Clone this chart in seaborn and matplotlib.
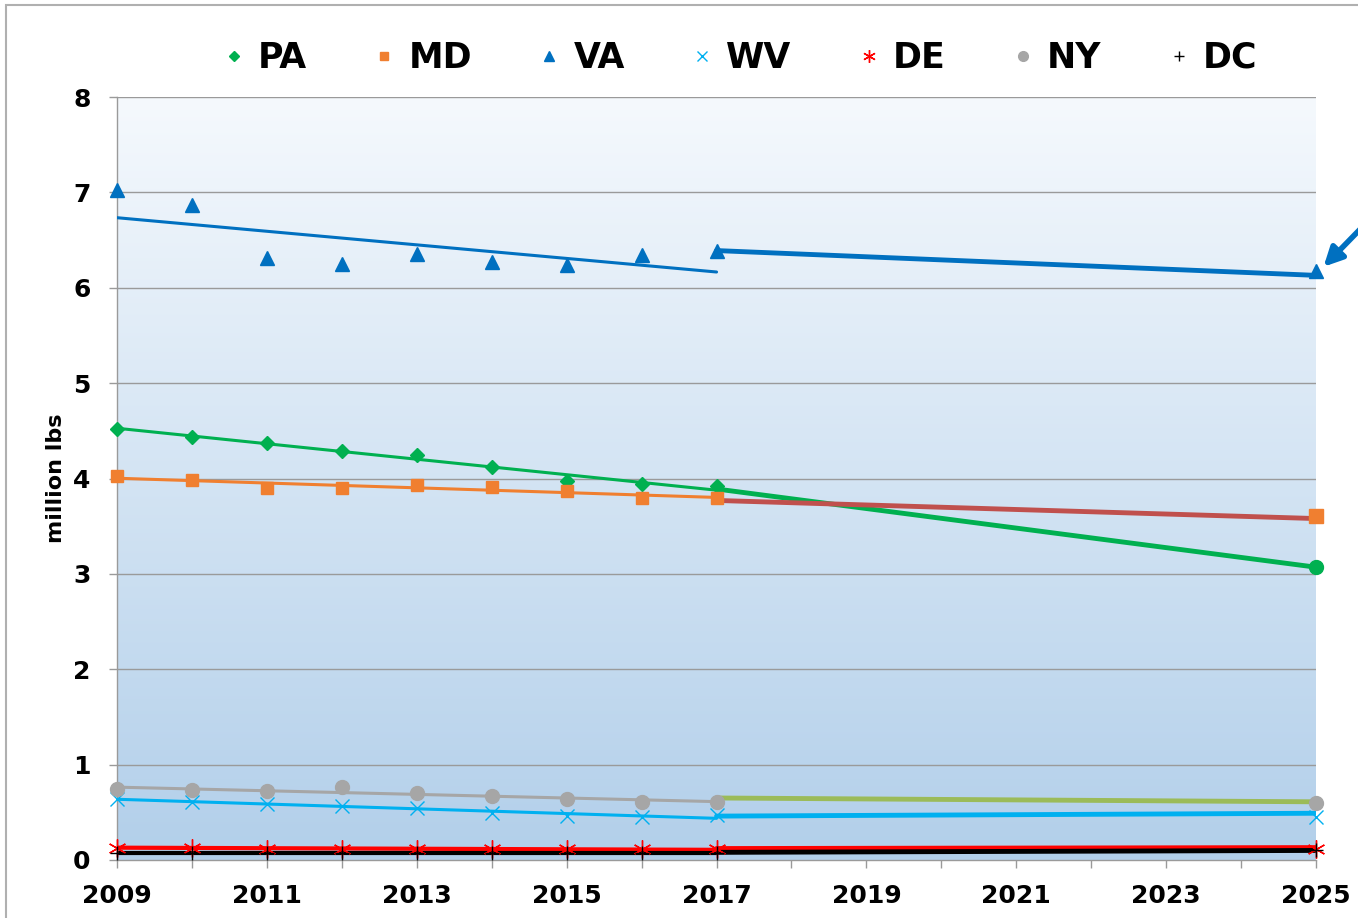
import numpy as np
import pandas as pd
import matplotlib.pyplot as plt
import seaborn as sns
from matplotlib.patches import Rectangle
from matplotlib.colors import LinearSegmentedColormap


# ==========================
# DADOS
# ==========================

anos = [2009, 2010, 2011, 2012, 2013, 2014, 2015, 2016, 2017]

pa = [4.52, 4.44, 4.37, 4.29, 4.25, 4.12, 3.97, 3.94, 3.92]
md = [4.03, 3.98, 3.90, 3.90, 3.93, 3.91, 3.87, 3.80, 3.80]
va = [7.03, 6.87, 6.31, 6.25, 6.35, 6.27, 6.24, 6.34, 6.39]
wv = [0.64, 0.61, 0.59, 0.57, 0.55, 0.49, 0.46, 0.45, 0.47]
de = [0.13, 0.13, 0.12, 0.12, 0.12, 0.11, 0.11, 0.11, 0.11]
ny = [0.74, 0.73, 0.72, 0.77, 0.70, 0.67, 0.64, 0.61, 0.61]
dc = [0.07, 0.07, 0.07, 0.07, 0.07, 0.07, 0.07, 0.07, 0.07]

estados = ['PA', 'MD', 'VA', 'WV', 'DE', 'NY', 'DC']
series = [pa, md, va, wv, de, ny, dc]

# metas 2017 -> 2025
proj_anos = [2017, 2025]
proj_inicio = [3.89, 3.77, 6.39, 0.46, 0.12, 0.65, 0.08]
proj_fim = [3.07, 3.58, 6.13, 0.49, 0.13, 0.61, 0.10]
valor_2025 = [3.07, 3.61, 6.18, 0.45, 0.12, 0.60, 0.10]

# ==========================
# ESTILO
# ==========================

cores_marc = ['#00B050', '#F07F30', '#0070C0', '#00B0F0', '#FF0000', '#A6A6A6', '#000000']
cores_proj = ['#00B050', '#C0504D', '#0070C0', '#00B0F0', '#FF0000', '#9BBB59', '#000000']
marcadores = ['D', 's', '^', 'x', (6, 2, 0), 'o', '+']
tamanhos = [7, 9, 10, 10, 13, 10, 10]
larg_trend = [2.2, 2.2, 2.2, 2.2, 3.0, 2.2, 3.0]
marc_2025 = ['o', 's', '^', 'x', (6, 2, 0), 'o', '+']

sns.set_theme(style='white')
plt.rcParams['font.family'] = ['DejaVu Sans']
plt.rcParams['font.weight'] = 'bold'
plt.rcParams['text.color'] = 'black'
plt.rcParams['axes.labelcolor'] = 'black'
plt.rcParams['xtick.labelcolor'] = 'black'
plt.rcParams['ytick.labelcolor'] = 'black'

fig = plt.figure(figsize=(13.58, 9.18), dpi=100)
ax = fig.add_axes([0.0862, 0.0632, 0.8829, 0.8311])

# fundo em gradiente
grad = LinearSegmentedColormap.from_list('fundo', ['#B2CFEA', '#F5F9FD'])
ax.imshow(
    np.linspace(0, 1, 256).reshape(-1, 1),
    extent=[2009, 2025, 0, 8],
    origin='lower',
    aspect='auto',
    cmap=grad,
    zorder=0
)

for y in range(1, 9):
    ax.axhline(y, color='#9A9A9A', lw=1, zorder=1)

for i, nome in enumerate(estados):
    df = pd.DataFrame({'ano': anos, 'valor': series[i]})

    # linha de tendência
    sns.regplot(
        x='ano', y='valor', data=df, ax=ax,
        ci=None, scatter=False, truncate=True,
        line_kws=dict(color=cores_marc[i], lw=larg_trend[i], zorder=3)
    )

    # projeção
    dfp = pd.DataFrame({'ano': proj_anos, 'valor': [proj_inicio[i], proj_fim[i]]})
    sns.lineplot(
        x='ano', y='valor', data=dfp, ax=ax,
        color=cores_proj[i], lw=3.5, zorder=3
    )

    # pontos
    ax.plot(
        anos, series[i],
        ls='none', marker=marcadores[i], ms=tamanhos[i],
        color=cores_marc[i], mec=cores_marc[i], mew=1.0,
        clip_on=False, zorder=4, label=nome
    )
    ax.plot(
        [2025], [valor_2025[i]],
        ls='none', marker=marc_2025[i], ms=tamanhos[i] if i == 4 else 10,
        color=cores_marc[i], mec=cores_marc[i], mew=1.0,
        clip_on=False, zorder=4
    )

if ax.get_legend() is not None:
    ax.get_legend().remove()

ax.set_xlim(2009, 2025)
ax.set_ylim(0, 8)

ax.set_xticks(range(2009, 2026, 2))
ax.set_xticks(range(2009, 2026), minor=True)
ax.set_yticks(range(0, 9))
ax.tick_params(axis='x', which='both', direction='out', length=6,
               color='#9A9A9A', width=1, labelsize=18, pad=11, bottom=True)
ax.tick_params(axis='y', direction='out', length=6, color='#9A9A9A',
               width=1, labelsize=18, pad=13, left=True)
for lab in ax.get_xticklabels() + ax.get_yticklabels():
    lab.set_fontweight('bold')

for lado in ['top', 'right']:
    ax.spines[lado].set_visible(False)
for lado in ['left', 'bottom']:
    ax.spines[lado].set_color('#9A9A9A')
    ax.spines[lado].set_linewidth(1)

ax.set_xlabel('')
ax.set_ylabel('million lbs', fontsize=16, fontweight='bold', labelpad=5)

# seta para o ponto de VA em 2025
ax.annotate(
    '', xy=(2025.1, 6.22), xycoords='data',
    xytext=(1.045, 0.84), textcoords='axes fraction',
    arrowprops=dict(arrowstyle='-|>', color='#0070C0', lw=4, mutation_scale=28,
                    shrinkA=0, shrinkB=0),
    annotation_clip=False
)

# legenda
handles, labels = ax.get_legend_handles_labels()
leg = fig.legend(
    handles, labels,
    loc='center', bbox_to_anchor=(0.544, 0.937),
    ncol=7, frameon=False, fontsize=25,
    markerscale=0.7, handlelength=0.8, handletextpad=0.3,
    columnspacing=1.82
)
for t in leg.get_texts():
    t.set_fontweight('bold')

# moldura
fig.patches.append(Rectangle(
    (6 / 1358, -0.1), 1.2, 0.1 + (918 - 5) / 918,
    transform=fig.transFigure, fill=False, edgecolor='#B0B0B0', lw=1.5
))

plt.savefig('out.png', dpi=100)
plt.close()
